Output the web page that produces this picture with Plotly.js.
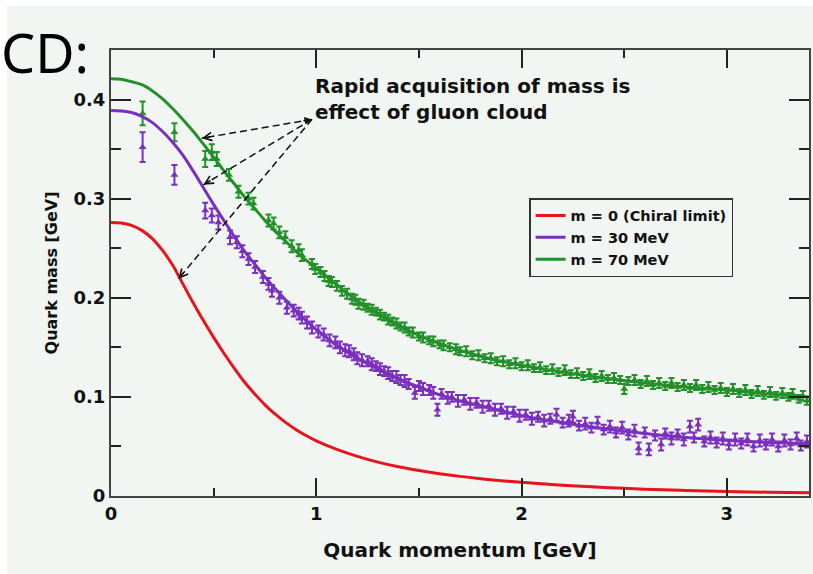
<!DOCTYPE html>
<html><head><meta charset="utf-8">
<script src="https://cdn.plot.ly/plotly-3.0.1.min.js"></script>
<style>html,body{margin:0;padding:0;background:#fff}#chart{width:813px;height:574px}</style>
</head><body><div id="chart"></div>
<script>
// ---- data ----
const legendNames = ["m = 0 (Chiral limit)", "m = 30 MeV", "m = 70 MeV"];
const curveX = [0,0.05,0.1,0.15,0.2,0.25,0.3,0.35,0.4,0.45,0.5,0.55,0.6,0.65,0.7,0.75,0.8,0.85,0.9,0.95,1.0,1.1,1.2,1.3,1.4,1.5,1.6,1.7,1.8,1.9,2.0,2.2,2.4,2.6,2.8,3.0,3.2,3.4];
const chiralY = [0.276,0.2755,0.273,0.268,0.260,0.248,0.233,0.214,0.195,0.177,0.160,0.144,0.129,0.115,0.103,0.092,0.0825,0.0743,0.0672,0.061,0.0556,0.047,0.040,0.0342,0.0295,0.0257,0.0225,0.0198,0.0175,0.0155,0.0138,0.0108,0.0086,0.0069,0.0056,0.0046,0.0038,0.0032];
const m30Y = [0.389,0.3885,0.387,0.383,0.377,0.368,0.357,0.344,0.328,0.311,0.294,0.278,0.262,0.247,0.234,0.221,0.209,0.198,0.187,0.177,0.168,0.152,0.139,0.128,0.118,0.110,0.102,0.096,0.091,0.086,0.081,0.074,0.068,0.063,0.059,0.056,0.054,0.053];
const m70Y = [0.421,0.4205,0.418,0.415,0.409,0.401,0.391,0.380,0.368,0.355,0.342,0.328,0.315,0.302,0.290,0.278,0.267,0.257,0.247,0.238,0.230,0.213,0.197,0.184,0.172,0.162,0.154,0.147,0.141,0.136,0.132,0.125,0.119,0.114,0.110,0.107,0.103,0.100];

// lattice points: [momentum, mass, error]
const m70Points = [
[0.154,0.386,0.012],[0.309,0.367,0.009],[0.459,0.340,0.008],[0.491,0.347,0.008],[0.515,0.340,0.007],
[0.575,0.324,0.006],[0.621,0.307,0.006],[0.670,0.300,0.006],[0.694,0.295,0.006],[0.767,0.278,0.006],
[0.792,0.275,0.006],[0.820,0.266,0.006],[0.849,0.261,0.006],[0.880,0.252,0.006],[0.914,0.248,0.006],[0.930,0.243,0.006],[0.979,0.234,0.005],
[0.995,0.229,0.005],[1.020,0.226,0.005],[1.040,0.222,0.005],[1.060,0.217,0.005],[1.076,0.216,0.005],[1.101,0.212,0.005],[1.125,0.207,0.005],[1.150,0.204,0.005],
[1.174,0.199,0.005],[1.190,0.198,0.005],[1.206,0.194,0.005],[1.23,0.193,0.005],[1.25,0.190,0.004],[1.27,0.188,0.005],
[1.29,0.186,0.004],[1.31,0.183,0.005],[1.33,0.181,0.004],[1.35,0.178,0.005],[1.37,0.176,0.004],
[1.39,0.174,0.005],[1.41,0.171,0.004],[1.43,0.170,0.005],[1.45,0.166,0.004],[1.47,0.165,0.005],
[1.50,0.161,0.004],[1.52,0.160,0.005],[1.55,0.157,0.004],[1.57,0.156,0.005],[1.60,0.153,0.004],
[1.62,0.152,0.005],[1.65,0.150,0.004],[1.68,0.148,0.005],[1.70,0.146,0.004],[1.73,0.146,0.005],
[1.76,0.142,0.004],[1.79,0.142,0.005],[1.82,0.139,0.004],[1.85,0.139,0.005],[1.88,0.136,0.004],
[1.91,0.136,0.005],[1.94,0.133,0.004],[1.97,0.134,0.005],[2.00,0.131,0.004],[2.03,0.132,0.005],
[2.06,0.129,0.004],[2.09,0.130,0.005],[2.12,0.127,0.004],[2.15,0.128,0.005],[2.18,0.125,0.004],
[2.21,0.127,0.005],[2.24,0.123,0.004],[2.27,0.124,0.005],[2.30,0.121,0.004],[2.33,0.123,0.005],
[2.36,0.119,0.004],[2.39,0.121,0.005],[2.42,0.118,0.004],[2.45,0.119,0.005],[2.48,0.117,0.004],
[2.50,0.108,0.005],[2.52,0.116,0.004],[2.55,0.117,0.005],[2.58,0.113,0.004],[2.61,0.116,0.005],
[2.64,0.112,0.004],[2.67,0.114,0.005],[2.70,0.111,0.004],[2.73,0.114,0.005],[2.76,0.110,0.004],
[2.79,0.112,0.005],[2.82,0.109,0.004],[2.85,0.112,0.005],[2.88,0.108,0.004],[2.91,0.110,0.005],
[2.94,0.107,0.004],[2.97,0.109,0.005],[3.00,0.105,0.004],[3.03,0.108,0.005],[3.06,0.104,0.004],
[3.09,0.107,0.005],[3.12,0.103,0.004],[3.15,0.106,0.005],[3.18,0.102,0.004],[3.21,0.105,0.005],
[3.24,0.101,0.004],[3.27,0.104,0.005],[3.30,0.100,0.004],[3.32,0.103,0.005],[3.35,0.098,0.004],
[3.37,0.101,0.005],[3.39,0.096,0.004]
];
const m30Points = [
[0.154,0.352,0.015],[0.309,0.324,0.010],[0.459,0.288,0.008],[0.491,0.283,0.007],[0.523,0.276,0.007],
[0.580,0.261,0.007],[0.613,0.256,0.006],[0.640,0.247,0.006],[0.670,0.239,0.006],[0.702,0.231,0.006],[0.740,0.221,0.006],[0.767,0.214,0.006],
[0.784,0.207,0.006],[0.820,0.200,0.006],[0.857,0.190,0.006],[0.890,0.187,0.006],[0.914,0.184,0.006],[0.930,0.180,0.006],[0.955,0.175,0.006],[0.979,0.170,0.006],
[1.010,0.166,0.006],[1.036,0.163,0.006],[1.065,0.157,0.006],[1.093,0.155,0.006],[1.115,0.150,0.006],[1.141,0.147,0.006],[1.160,0.146,0.006],[1.182,0.143,0.006],[1.200,0.139,0.006],[1.223,0.137,0.006],
[1.25,0.136,0.005],[1.27,0.133,0.006],[1.29,0.131,0.005],[1.31,0.128,0.006],[1.33,0.126,0.005],
[1.35,0.124,0.006],[1.37,0.121,0.005],[1.39,0.120,0.006],[1.41,0.117,0.005],[1.43,0.116,0.006],
[1.45,0.113,0.005],[1.48,0.104,0.006],[1.50,0.111,0.005],[1.52,0.108,0.006],[1.55,0.107,0.005],
[1.57,0.104,0.006],[1.59,0.087,0.006],[1.61,0.103,0.005],[1.64,0.099,0.006],[1.66,0.100,0.005],
[1.69,0.096,0.006],[1.72,0.097,0.005],[1.75,0.093,0.006],[1.78,0.094,0.005],[1.81,0.090,0.006],
[1.84,0.091,0.005],[1.87,0.087,0.006],[1.90,0.088,0.005],[1.93,0.084,0.006],[1.96,0.085,0.005],
[1.99,0.081,0.006],[2.02,0.082,0.005],[2.05,0.078,0.006],[2.08,0.080,0.005],[2.11,0.076,0.006],
[2.14,0.078,0.005],[2.17,0.082,0.006],[2.20,0.074,0.005],[2.23,0.076,0.006],[2.25,0.080,0.006],
[2.28,0.071,0.005],[2.31,0.073,0.006],[2.34,0.069,0.005],[2.37,0.074,0.006],[2.40,0.067,0.005],
[2.43,0.070,0.006],[2.46,0.064,0.005],[2.49,0.069,0.006],[2.52,0.062,0.005],[2.55,0.066,0.006],
[2.57,0.048,0.006],[2.60,0.064,0.005],[2.62,0.047,0.006],[2.65,0.061,0.005],[2.68,0.052,0.006],
[2.70,0.063,0.005],[2.73,0.058,0.006],[2.76,0.062,0.005],[2.79,0.057,0.006],[2.82,0.070,0.006],
[2.84,0.059,0.005],[2.86,0.072,0.006],[2.89,0.055,0.005],[2.92,0.059,0.006],[2.95,0.054,0.005],
[2.98,0.058,0.006],[3.01,0.052,0.005],[3.04,0.057,0.006],[3.07,0.053,0.005],[3.10,0.057,0.006],
[3.13,0.050,0.005],[3.16,0.056,0.006],[3.19,0.052,0.005],[3.22,0.057,0.006],[3.25,0.050,0.005],
[3.28,0.056,0.006],[3.31,0.052,0.005],[3.34,0.058,0.006],[3.36,0.051,0.005],[3.39,0.055,0.006]
];
const xTickVals = [0,1,2,3];
const xTickText = ["0","1","2","3"];
const yTickVals = [0,0.1,0.2,0.3,0.4];
const yTickText = ["0","0.1","0.2","0.3","0.4"];

// ---- styles ----
const RED = '#e8141c', PURPLE = '#7a2fbf', GREEN = '#23902a';
const BG = '#f2f6f3';
const FAM = 'DejaVu Sans';
const bold = (size) => ({family: FAM, size: size, color: '#111', weight: 'bold'});

function pointsTrace(pts, color) {
  return {
    x: pts.map(p => p[0]), y: pts.map(p => p[1]),
    mode: 'markers', type: 'scatter', showlegend: false, hoverinfo: 'skip',
    marker: {symbol: 'triangle-up', size: 7, color: color},
    error_y: {type: 'data', array: pts.map(p => p[2]), visible: true, color: color, thickness: 2, width: 3}
  };
}
function curveTrace(y, color, name) {
  return {x: curveX, y: y, mode: 'lines', type: 'scatter', name: name,
    line: {color: color, width: 3, shape: 'spline', smoothing: 1}};
}

const traces = [
  pointsTrace(m30Points, PURPLE),
  pointsTrace(m70Points, GREEN),
  curveTrace(chiralY, RED, legendNames[0]),
  curveTrace(m30Y, PURPLE, legendNames[1]),
  curveTrace(m70Y, GREEN, legendNames[2])
];

// arrow geometry (data coordinates)
const tail = [0.979, 0.380];
const heads = [[0.442, 0.361, 9.9, -1.7], [0.450, 0.314, 8.6, -5.2], [0.328, 0.219, 6.5, -7.6]];

const shapes = [{type: 'rect', xref: 'paper', yref: 'paper', x0: -0.149, x1: 1.01, y0: -0.18, y1: 1.0987,
  fillcolor: BG, line: {width: 0}, layer: 'below'}];
heads.forEach(h => shapes.push({type: 'line', xref: 'x', yref: 'y', x0: tail[0], y0: tail[1], x1: h[0], y1: h[1],
  line: {color: '#111', width: 1.5, dash: '7px,4px'}}));

const annotations = [
  {xref: 'paper', yref: 'paper', x: -0.1605, y: 0.9945, xanchor: 'left', yanchor: 'middle', showarrow: false,
   text: 'CD:', font: {family: 'Noto Sans', size: 54, color: '#000'}},
  {xref: 'paper', yref: 'paper', x: 0.2894, y: 0.9507, xanchor: 'left', yanchor: 'top', align: 'left', showarrow: false,
   text: 'Rapid acquisition of mass is<br>effect of gluon cloud', font: bold(20)},
  {xref: 'x', yref: 'y', x: tail[0], y: tail[1], ax: -10, ay: 1.7, text: '', showarrow: true,
   arrowhead: 2, arrowsize: 1, arrowwidth: 1.5, arrowcolor: '#111', standoff: 0}
];
heads.forEach(h => annotations.push({xref: 'x', yref: 'y', x: h[0], y: h[1], ax: h[2], ay: h[3], text: '',
  showarrow: true, arrowhead: 5, arrowsize: 1.1, arrowwidth: 1.5, arrowcolor: '#111', standoff: 0}));

const axisCommon = {ticks: 'inside', tickwidth: 2, tickcolor: '#222', showline: true, linecolor: '#444', linewidth: 2,
  mirror: 'allticks', showgrid: false, zeroline: false, tickfont: bold(18), automargin: false, fixedrange: true};

const layout = {
  width: 813, height: 574,
  margin: {l: 111, r: 4, t: 50, b: 78, pad: 0},
  paper_bgcolor: '#ffffff', plot_bgcolor: BG,
  xaxis: Object.assign({}, axisCommon, {range: [0, 3.4], tickmode: 'array', tickvals: xTickVals, ticktext: xTickText, ticklen: 18,
    minor: {ticks: 'inside', dtick: 0.5, tick0: 0, ticklen: 8, tickwidth: 2, tickcolor: '#222', showgrid: false},
    title: {text: 'Quark momentum [GeV]', font: bold(20), standoff: 20}}),
  yaxis: Object.assign({}, axisCommon, {range: [0, 0.45], tickmode: 'array', tickvals: yTickVals, ticktext: yTickText, ticklen: 20,
    minor: {ticks: 'inside', dtick: 0.05, tick0: 0, ticklen: 10, tickwidth: 2, tickcolor: '#222', showgrid: false},
    title: {text: 'Quark mass [GeV]', font: bold(16), standoff: 12}}),
  showlegend: true,
  legend: {x: 0.599, y: 0.668, xanchor: 'left', yanchor: 'top', bgcolor: BG, bordercolor: '#333', borderwidth: 1.5,
    font: bold(14.5), itemwidth: 30, tracegroupgap: 0},
  shapes: shapes,
  annotations: annotations
};

Plotly.newPlot('chart', traces, layout, {displayModeBar: false, staticPlot: true});
</script></body></html>
